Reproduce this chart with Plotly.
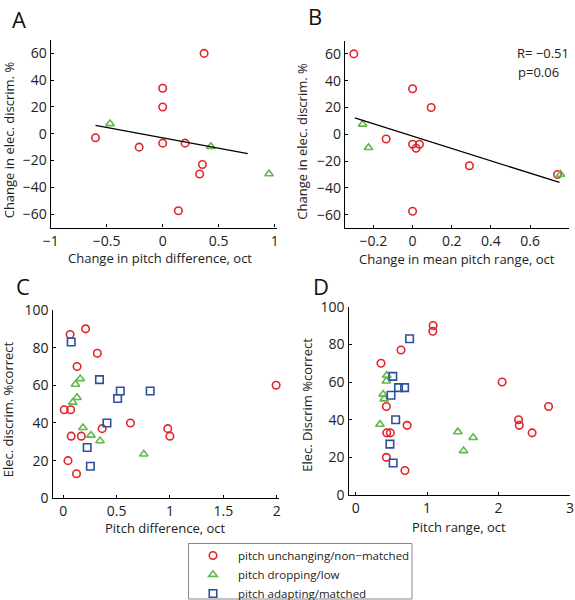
import plotly.graph_objects as go

# ---------------- data ----------------
A_red_x = [-0.60, -0.21, 0.00, 0.00, 0.00, 0.20, 0.37, 0.355, 0.33, 0.14]
A_red_y = [-3, -10, 34, 20, -7, -7, 60, -23, -30, -57.5]
A_green_x = [-0.47, 0.43, 0.95]
A_green_y = [7.5, -9.5, -30]
A_fit_x = [-0.60, 0.76]
A_fit_y = [6.2, -14.9]

B_red_x = [-0.30, 0.00, 0.095, -0.135, 0.00, 0.035, 0.018, 0.29, 0.00, 0.74]
B_red_y = [60, 34, 20, -3.5, -7.5, -7.5, -10.5, -23.5, -57.5, -30]
B_green_x = [-0.255, -0.225, 0.755]
B_green_y = [7.5, -10, -30]
B_fit_x = [-0.295, 0.75]
B_fit_y = [12.2, -36.0]
B_stats = ["R= \u22120.51", "p=0.06"]

C_red_x = [0.065, 0.21, 0.32, 0.13, 0.01, 0.07, 0.075, 0.17, 0.365, 0.63, 0.98, 1.0, 0.045, 0.125, 1.995]
C_red_y = [87, 90, 77, 70, 47, 47, 33, 33, 37, 40, 37, 33, 20, 13, 60]
C_green_x = [0.16, 0.115, 0.13, 0.09, 0.185, 0.26, 0.345, 0.755]
C_green_y = [63.5, 60.5, 53.5, 51, 37.5, 33.5, 30.5, 23.5]
C_blue_x = [0.075, 0.34, 0.535, 0.51, 0.815, 0.41, 0.225, 0.255]
C_blue_y = [83, 63, 57, 53, 57, 40, 27, 17]

D_red_x = [1.085, 1.08, 0.635, 0.355, 0.43, 0.72, 0.435, 0.485, 0.43, 0.69, 2.05, 2.28, 2.29, 2.47, 2.70]
D_red_y = [90, 87, 77, 70, 47, 37, 33, 33, 20, 13, 60, 40, 37, 33, 47]
D_green_x = [0.435, 0.43, 0.385, 0.40, 0.34, 1.43, 1.645, 1.51]
D_green_y = [63.5, 60.5, 53.5, 51, 37.5, 33.5, 30.5, 23.5]
D_blue_x = [0.755, 0.52, 0.60, 0.685, 0.495, 0.56, 0.48, 0.525]
D_blue_y = [83, 63, 57, 57, 53, 40, 27, 17]

legend_names = ["pitch unchanging/non\u2212matched", "pitch dropping/low", "pitch adapting/matched"]
panel_labels = ["A", "B", "C", "D"]
x_titles = ["Change in pitch difference, oct", "Change in mean pitch range, oct",
            "Pitch difference, oct", "Pitch range, oct"]
y_titles = ["Change in elec. discrim. %", "Change in elec. discrim. %",
            "Elec. discrim. %correct", "Elec. Discrim %correct"]

# ---------------- style ----------------
W, H = 575, 600
FONT = "Open Sans"
RED = "#e3242b"
GREEN = "#62b849"
BLUE = "#2d4f9e"

def fx(px):
    return px / W

def fy(py):
    return 1 - py / H

fig = go.Figure()

def scatter(x, y, sym, color, name, xa, ya, show):
    fig.add_trace(go.Scatter(
        x=x, y=y, mode="markers", name=name, showlegend=show,
        xaxis=xa, yaxis=ya, cliponaxis=False,
        marker=dict(symbol=sym, size=7.5, color=color, line=dict(width=1.6, color=color)),
    ))

def fitline(x, y, xa, ya):
    fig.add_trace(go.Scatter(x=x, y=y, mode="lines", showlegend=False,
                             xaxis=xa, yaxis=ya, line=dict(color="black", width=1.3)))

scatter(A_red_x, A_red_y, "circle-open", RED, legend_names[0], "x", "y", False)
scatter(A_green_x, A_green_y, "triangle-up-open", GREEN, legend_names[1], "x", "y", False)
fitline(A_fit_x, A_fit_y, "x", "y")

scatter(B_red_x, B_red_y, "circle-open", RED, legend_names[0], "x2", "y2", False)
scatter(B_green_x, B_green_y, "triangle-up-open", GREEN, legend_names[1], "x2", "y2", False)
fitline(B_fit_x, B_fit_y, "x2", "y2")

scatter(C_red_x, C_red_y, "circle-open", RED, legend_names[0], "x3", "y3", True)
scatter(C_green_x, C_green_y, "triangle-up-open", GREEN, legend_names[1], "x3", "y3", True)
scatter(C_blue_x, C_blue_y, "square-open", BLUE, legend_names[2], "x3", "y3", True)

scatter(D_red_x, D_red_y, "circle-open", RED, legend_names[0], "x4", "y4", False)
scatter(D_green_x, D_green_y, "triangle-up-open", GREEN, legend_names[1], "x4", "y4", False)
scatter(D_blue_x, D_blue_y, "square-open", BLUE, legend_names[2], "x4", "y4", False)

# axis pixel boxes: (left, right, top, bottom)
boxes = {
    1: (50.7, 276.9, 40.0, 227.5),
    2: (345.0, 569.3, 40.5, 228.0),
    3: (52.5, 278.8, 310.0, 498.3),
    4: (348.5, 570.0, 306.7, 495.0),
}
xranges = {1: [-1, 1.02], 2: [-0.345, 0.8], 3: [-0.1, 2.02], 4: [-0.1, 3.0]}
yranges = {1: [-70, 70], 2: [-70, 70], 3: [0, 100], 4: [0, 100]}
xticks = {1: [-1, -0.5, 0, 0.5, 1], 2: [-0.2, 0, 0.2, 0.4, 0.6],
          3: [0, 0.5, 1, 1.5, 2], 4: [0, 1, 2, 3]}
yticks = {1: [-60, -40, -20, 0, 20, 40, 60], 2: [-60, -40, -20, 0, 20, 40, 60],
          3: [0, 20, 40, 60, 80, 100], 4: [0, 20, 40, 60, 80, 100]}

axis_common = dict(showline=True, linecolor="black", linewidth=1.4, ticks="inside",
                   ticklen=3, tickwidth=1.2, tickcolor="black", showgrid=False,
                   zeroline=False, tickfont=dict(family=FONT, size=14, color="#222"),
                   mirror=False, automargin=False)

layout = dict(width=W, height=H, margin=dict(l=0, r=0, t=0, b=0, autoexpand=False),
              plot_bgcolor="white", paper_bgcolor="white",
              font=dict(family=FONT, color="#222"))
for i in range(1, 5):
    l, r, t, b = boxes[i]
    xk = "xaxis" if i == 1 else f"xaxis{i}"
    yk = "yaxis" if i == 1 else f"yaxis{i}"
    layout[xk] = dict(domain=[fx(l), fx(r)], range=xranges[i], tickvals=xticks[i],
                      anchor="y" if i == 1 else f"y{i}", **axis_common)
    layout[yk] = dict(domain=[fy(b), fy(t)], range=yranges[i], tickvals=yticks[i],
                      anchor="x" if i == 1 else f"x{i}", **axis_common)
fig.update_layout(**layout)

annotations = []
# panel labels
label_pos = [(18.5, 19.5), (315, 16), (23, 286), (320.5, 286)]
for lab, (px, py) in zip(panel_labels, label_pos):
    annotations.append(dict(text=lab, x=fx(px), y=fy(py), xref="paper", yref="paper",
                            showarrow=False, xanchor="center", yanchor="middle",
                            font=dict(family=FONT, size=22, color="#111")))
# x titles
xt_pos = [(160, 257.5), (457, 258.5), (165, 528), (459, 526.5)]
for txt, (px, py) in zip(x_titles, xt_pos):
    annotations.append(dict(text=txt, x=fx(px), y=fy(py), xref="paper", yref="paper",
                            showarrow=False, xanchor="center", yanchor="middle",
                            font=dict(family=FONT, size=13, color="#222")))
# y titles
yt_pos = [(9.3, 140), (301.7, 141), (8.3, 409), (306.7, 405)]
for txt, (px, py) in zip(y_titles, yt_pos):
    annotations.append(dict(text=txt, x=fx(px), y=fy(py), xref="paper", yref="paper",
                            showarrow=False, xanchor="center", yanchor="middle",
                            textangle=-90, font=dict(family=FONT, size=13, color="#222")))
# stats text in B
annotations.append(dict(text=B_stats[0], x=fx(571), y=fy(53.3), xref="paper", yref="paper",
                        showarrow=False, xanchor="right", yanchor="middle",
                        font=dict(family=FONT, size=13, color="#222")))
annotations.append(dict(text=B_stats[1], x=fx(516), y=fy(71.7), xref="paper", yref="paper",
                        showarrow=False, xanchor="left", yanchor="middle",
                        font=dict(family=FONT, size=13, color="#222")))
fig.update_layout(annotations=annotations)

# legend frame (drawn as a shape so its size matches the original box)
fig.add_shape(type="rect", xref="paper", yref="paper",
              x0=fx(188.5), x1=fx(412), y0=fy(599), y1=fy(543.5),
              line=dict(color="#888", width=1), fillcolor="white", layer="below")

fig.update_layout(legend=dict(
    x=fx(188), y=fy(541), xanchor="left", yanchor="top",
    borderwidth=0, bgcolor="rgba(0,0,0,0)",
    font=dict(family=FONT, size=11.5, color="#222"),
    itemwidth=40, tracegroupgap=0,
))

fig.write_html("out.html", config={"displayModeBar": False},
               post_script="document.body.style.margin='0';document.body.style.overflow='hidden';")
